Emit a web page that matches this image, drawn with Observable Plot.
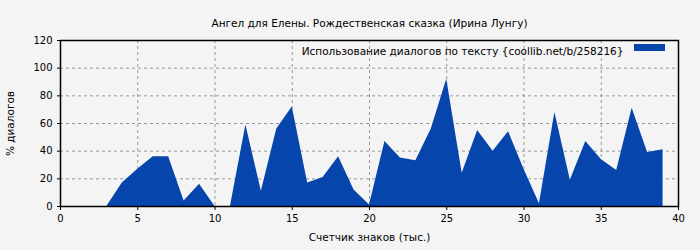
<!DOCTYPE html>
<html>
<head>
<meta charset="utf-8">
<script src="https://cdn.jsdelivr.net/npm/d3@7"></script>
<script src="https://cdn.jsdelivr.net/npm/@observablehq/plot@0.6"></script>
<style>
html, body { margin: 0; padding: 0; background: #f4f4f4; }
svg { display: block; }
</style>
</head>
<body>
<div id="chart"></div>
<script>
const title = "Ангел для Елены. Рождественская сказка (Ирина Лунгу)";
const seriesName = "Использование диалогов по тексту {coollib.net/b/258216}";
const xLabel = "Счетчик знаков (тыс.)";
const yLabel = "% диалогов";
const xValues = [0,1,2,3,4,5,6,7,8,9,10,11,12,13,14,15,16,17,18,19,20,21,22,23,24,25,26,27,28,29,30,31,32,33,34,35,36,37,38,39];
const yValues = [0,0,0,0,17,27,36,36,4,16,0,0,59,11,56,72,17,21,36,12,1,47,35,33,56,92,24,55,40,54,27,2,68,19,47,34,26,71,39,41];
const xTicks = [0,5,10,15,20,25,30,35,40];
const yTicks = [0,20,40,60,80,100,120];

const data = xValues.map((x, i) => ({x, y: yValues[i]}));
const blue = "#0646ac";

function legendSwatch(index, scales, values, dimensions) {
  const {width, marginRight, marginTop} = dimensions;
  return d3.create("svg:rect")
    .attr("x", width - marginRight - 44)
    .attr("y", marginTop + 4)
    .attr("width", 31)
    .attr("height", 7)
    .attr("fill", blue)
    .node();
}

const chart = Plot.plot({
  width: 700,
  height: 250,
  marginLeft: 60,
  marginRight: 22,
  marginTop: 40,
  marginBottom: 44,
  style: {background: "#f4f4f4", fontFamily: "DejaVu Sans, sans-serif", fontSize: "10px", color: "#000"},
  x: {domain: [0, 40]},
  y: {domain: [0, 120]},
  marks: [
    Plot.gridX(xTicks.slice(1, -1), {stroke: "#999", strokeOpacity: 1, strokeDasharray: "3,3"}),
    Plot.gridY(yTicks.slice(1, -1), {stroke: "#999", strokeOpacity: 1, strokeDasharray: "3,3"}),
    Plot.areaY(data, {x: "x", y: "y", fill: blue}),
    Plot.frame({stroke: "#000", strokeWidth: 1.5}),
    Plot.axisX({ticks: xTicks, tickSize: 4, tickPadding: 4, fontSize: 10, label: null}),
    Plot.axisY({ticks: yTicks, tickSize: 3, tickPadding: 5, fontSize: 10, label: null}),
    Plot.text([xLabel], {frameAnchor: "bottom", dy: 34, fontSize: 10.5}),
    Plot.text([yLabel], {frameAnchor: "left", dx: -50, rotate: -90, textAnchor: "middle", fontSize: 10.5}),
    Plot.text([title], {frameAnchor: "top", dy: -21, fontSize: 10.5}),
    Plot.text([seriesName], {frameAnchor: "top-right", dx: -55, dy: 7.5, textAnchor: "end", fontSize: 10.5}),
    legendSwatch
  ]
});
document.getElementById("chart").appendChild(chart);
</script>
</body>
</html>
